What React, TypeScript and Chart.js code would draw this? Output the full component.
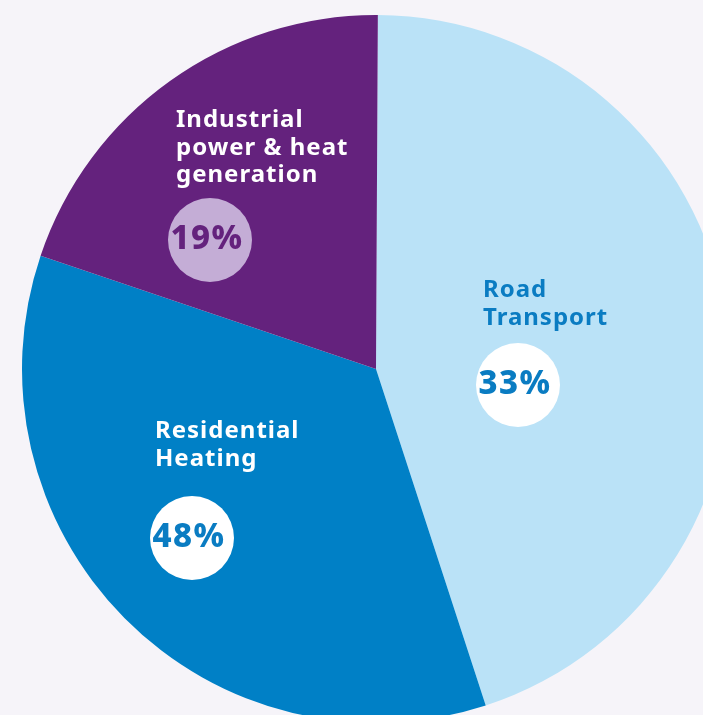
import React, { useEffect, useRef } from "react";
import { Chart, registerables } from "chart.js";

Chart.register(...registerables);

const categories = ["Road Transport", "Residential Heating", "Industrial power & heat generation"];
const sliceValues = [44.9, 35.2, 19.9];
const percentLabels = ["33%", "48%", "19%"];
const labelLines = [["Road", "Transport"], ["Residential", "Heating"], ["Industrial", "power & heat", "generation"]];
const sliceColors = ["#bae2f7", "#0080c6", "#64227d"];
const labelColors = ["#0a7cc2", "#ffffff", "#ffffff"];
const badgeFills = ["#ffffff", "#ffffff", "#c4add6"];
const badgeTextColors = ["#0a7cc2", "#0a7cc2", "#64227d"];
// label placement relative to pie centre (px)
const textOffsets = [[107, -72], [-221, 69], [-200, -242]];
const badgeOffsets = [[142, 16], [-184, 169], [-166, -129]];

const FONT = '"Noto Sans", sans-serif';

const labelPlugin = {
  id: "sliceLabels",
  afterDraw(chart: any) {
    const meta = chart.getDatasetMeta(0);
    const arc = meta.data[0];
    if (!arc) return;
    const cx = arc.x;
    const cy = arc.y;
    const ctx = chart.ctx;
    ctx.save();
    labelLines.forEach((lines, i) => {
      const [tx, ty] = textOffsets[i];
      ctx.fillStyle = labelColors[i];
      ctx.font = `700 24px ${FONT}`;
      (ctx as any).letterSpacing = "1px";
      ctx.textAlign = "left";
      ctx.textBaseline = "alphabetic";
      lines.forEach((line, j) => {
        ctx.fillText(line, cx + tx, cy + ty + j * 27.5);
      });
      const [bx, by] = badgeOffsets[i];
      ctx.beginPath();
      ctx.arc(cx + bx, cy + by, 42, 0, Math.PI * 2);
      ctx.fillStyle = badgeFills[i];
      ctx.fill();
      ctx.fillStyle = badgeTextColors[i];
      ctx.font = `800 33px ${FONT}`;
      (ctx as any).letterSpacing = "1.5px";
      ctx.textAlign = "center";
      ctx.fillText(percentLabels[i], cx + bx - 3, cy + by + 9);
    });
    ctx.restore();
  },
};

export default function App() {
  const ref = useRef<HTMLCanvasElement | null>(null);
  useEffect(() => {
    if (!ref.current) return;
    const chart = new Chart(ref.current, {
      type: "pie",
      data: {
        labels: categories,
        datasets: [
          {
            data: sliceValues,
            backgroundColor: sliceColors,
            borderWidth: 0,
          },
        ],
      },
      options: {
        animation: false,
        responsive: false,
        rotation: 0.3,
        layout: { padding: 0 },
        plugins: { legend: { display: false }, tooltip: { enabled: false } },
      },
      plugins: [labelPlugin],
    });
    return () => chart.destroy();
  }, []);
  return (
    <div style={{ position: "fixed", left: 0, top: 0, width: 703, height: 715, overflow: "hidden", background: "#f6f4f9" }}>
      <div style={{ position: "absolute", left: 22, top: 15, width: 708, height: 708 }}>
        <canvas ref={ref} width={708} height={708} style={{ width: 708, height: 708 }} />
      </div>
    </div>
  );
}
